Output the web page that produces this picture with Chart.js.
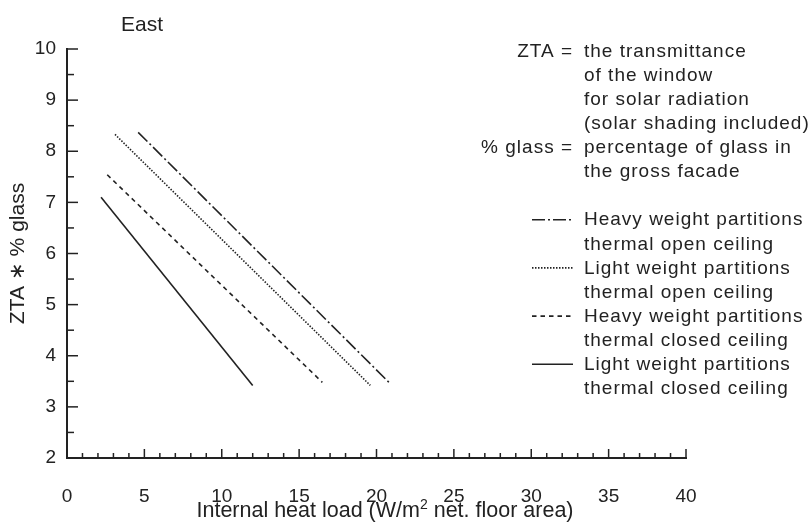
<!DOCTYPE html>
<html>
<head>
<meta charset="utf-8">
<script src="https://cdn.jsdelivr.net/npm/chart.js@4.4.1/dist/chart.umd.min.js"></script>
<style>
  html, body { margin: 0; padding: 0; background: #fff; }
</style>
</head>
<body>
<canvas id="grafico" width="810" height="522"></canvas>
<script>
// datos (extremos de cada recta)
const heavyOpenX = [4.6, 20.9];
const heavyOpenY = [8.37, 3.45];
const lightOpenX = [3.1, 19.6];
const lightOpenY = [8.33, 3.42];
const heavyClosedX = [2.6, 16.5];
const heavyClosedY = [7.54, 3.48];
const lightClosedX = [2.2, 12.0];
const lightClosedY = [7.1, 3.42];

const xTicks = [0, 5, 10, 15, 20, 25, 30, 35, 40];
const yTicks = [2, 3, 4, 5, 6, 7, 8, 9, 10];

const seriesLabels = [
    ['Heavy weight partitions', 'thermal open ceiling'],
    ['Light weight partitions', 'thermal open ceiling'],
    ['Heavy weight partitions', 'thermal closed ceiling'],
    ['Light weight partitions', 'thermal closed ceiling']
];
const noteTerms = ['ZTA =', '% glass ='];
const noteLines = ['the transmittance', 'of the window', 'for solar radiation',
    '(solar shading included)', 'percentage of glass in', 'the gross facade'];

const ink = '#222';
const fontFamily = "'Liberation Sans', Arial, Helvetica, sans-serif";

function puntos(xs, ys) {
    return xs.map((v, i) => ({ x: v, y: ys[i] }));
}

// ticks hacia dentro, textos y leyenda
const extras = {
    id: 'extras',
    afterDraw(chart) {
        const ctx = chart.ctx;
        const sx = chart.scales.x;
        const sy = chart.scales.y;
        const area = chart.chartArea;
        ctx.save();
        ctx.strokeStyle = ink;
        ctx.lineWidth = 1.5;

        for (let v = sx.min; v <= sx.max; v += 1) {
            const px = sx.getPixelForValue(v);
            const len = v % 5 === 0 ? 9 : 5;
            ctx.beginPath();
            ctx.moveTo(px, area.bottom);
            ctx.lineTo(px, area.bottom - len);
            ctx.stroke();
        }
        for (let v = sy.min; v <= sy.max; v += 0.5) {
            const py = sy.getPixelForValue(v);
            const len = v % 1 === 0 ? 11 : 7;
            ctx.beginPath();
            ctx.moveTo(area.left, py);
            ctx.lineTo(area.left + len, py);
            ctx.stroke();
        }

        ctx.fillStyle = ink;
        ctx.textBaseline = 'alphabetic';

        // titulo
        ctx.font = '21px ' + fontFamily;
        ctx.textAlign = 'left';
        ctx.fillText('East', 121, 31);

        // titulo eje x con superindice
        const partA = 'Internal heat load (W/m';
        const partB = ' net. floor area)';
        ctx.font = '21.5px ' + fontFamily;
        const wA = ctx.measureText(partA).width;
        const wB = ctx.measureText(partB).width;
        ctx.font = '14px ' + fontFamily;
        const wSup = ctx.measureText('2').width;
        const total = wA + wSup + wB;
        let x0 = 385 - total / 2;
        ctx.font = '21.5px ' + fontFamily;
        ctx.fillText(partA, x0, 517);
        ctx.font = '14px ' + fontFamily;
        ctx.fillText('2', x0 + wA, 509);
        ctx.font = '21.5px ' + fontFamily;
        ctx.fillText(partB, x0 + wA + wSup, 517);

        // notas y leyenda
        const rowY = r => 50 + 24.1 * r;
        ctx.font = '19px ' + fontFamily;
        ctx.letterSpacing = '1px';
        ctx.textAlign = 'right';
        ctx.fillText(noteTerms[0], 573, rowY(0) + 6.7);
        ctx.fillText(noteTerms[1], 573, rowY(4) + 6.7);
        ctx.textAlign = 'left';
        noteLines.forEach((t, i) => ctx.fillText(t, 584, rowY(i) + 6.7));
        seriesLabels.forEach((pair, i) => {
            ctx.fillText(pair[0], 584, rowY(7 + 2 * i) + 6.7);
            ctx.fillText(pair[1], 584, rowY(8 + 2 * i) + 6.7);
        });
        ctx.letterSpacing = '0px';

        chart.data.datasets.forEach((ds, i) => {
            const yy = rowY(7 + 2 * i) + 1;
            ctx.strokeStyle = ds.borderColor;
            ctx.lineWidth = ds.borderWidth;
            ctx.setLineDash(ds.borderDash || []);
            ctx.beginPath();
            ctx.moveTo(532, yy);
            ctx.lineTo(573, yy);
            ctx.stroke();
        });
        ctx.restore();
    }
};

new Chart(document.getElementById('grafico'), {
    type: 'line',
    data: {
        datasets: [
            {
                label: seriesLabels[0].join(' '),
                data: puntos(heavyOpenX, heavyOpenY),
                borderColor: ink,
                borderWidth: 1.6,
                borderDash: [13, 3, 2, 3]
            },
            {
                label: seriesLabels[1].join(' '),
                data: puntos(lightOpenX, lightOpenY),
                borderColor: ink,
                borderWidth: 1.6,
                borderDash: [1.5, 1.5]
            },
            {
                label: seriesLabels[2].join(' '),
                data: puntos(heavyClosedX, heavyClosedY),
                borderColor: ink,
                borderWidth: 1.6,
                borderDash: [4.5, 4]
            },
            {
                label: seriesLabels[3].join(' '),
                data: puntos(lightClosedX, lightClosedY),
                borderColor: ink,
                borderWidth: 1.6,
                borderDash: []
            }
        ]
    },
    options: {
        responsive: false,
        animation: false,
        layout: { padding: { top: 49, right: 124, bottom: 0, left: 0 } },
        elements: { point: { radius: 0 }, line: { tension: 0 } },
        plugins: {
            legend: { display: false },
            tooltip: { enabled: false }
        },
        scales: {
            x: {
                type: 'linear',
                min: 0,
                max: 40,
                afterBuildTicks: s => { s.ticks = xTicks.map(v => ({ value: v })); },
                afterFit: s => { s.height = 64; },
                grid: { display: false, drawTicks: false },
                border: { display: true, color: ink, width: 2 },
                ticks: { color: ink, padding: 27, font: { size: 19, family: fontFamily } }
            },
            y: {
                type: 'linear',
                min: 2,
                max: 10,
                afterBuildTicks: s => { s.ticks = yTicks.map(v => ({ value: v })); },
                afterFit: s => { s.width = 67; },
                grid: { display: false, drawTicks: false },
                border: { display: true, color: ink, width: 2 },
                ticks: { color: ink, padding: 11, font: { size: 19, family: fontFamily } },
                title: {
                    display: true,
                    text: 'ZTA ∗ % glass',
                    color: ink,
                    padding: { top: 6, bottom: 0 },
                    font: { size: 21, family: fontFamily }
                }
            }
        }
    },
    plugins: [extras]
});
</script>
</body>
</html>
